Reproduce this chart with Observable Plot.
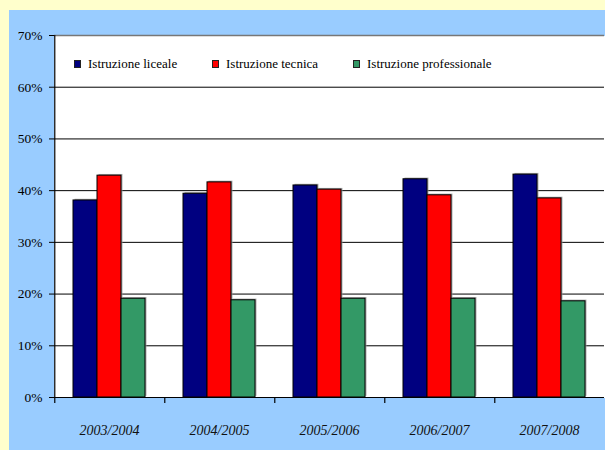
<!DOCTYPE html>
<html><head><meta charset="utf-8">
<script src="https://cdn.jsdelivr.net/npm/d3@7"></script>
<script src="https://cdn.jsdelivr.net/npm/@observablehq/plot@0.6"></script>
<style>
html,body{margin:0;padding:0;background:#ffffcc;overflow:hidden;}
#wrap{position:relative;width:605px;height:450px;}
#panel{position:absolute;left:9px;top:10px;right:0;bottom:0;background:#99ccff;}
#chart{position:absolute;left:0;top:0;}
#chart svg{background:transparent;max-width:none;}
#chart [aria-label="fx-axis tick label"] text{font-style:italic;}
#legend{position:absolute;left:74px;top:57px;font:13px "Liberation Serif","Times New Roman",serif;color:#000;white-space:nowrap;}
#legend .item{position:absolute;top:0;display:flex;align-items:center;height:14px;}
#legend .sw{width:5px;height:6px;border:1px solid #222;margin-right:7px;}
</style></head>
<body><div id="wrap"><div id="panel"></div><div id="chart"></div><div id="legend"></div></div>
<script>
const years = ["2003/2004", "2004/2005", "2005/2006", "2006/2007", "2007/2008"];
const series = ["Istruzione liceale", "Istruzione tecnica", "Istruzione professionale"];
const liceale = [38.1, 39.4, 41.0, 42.2, 43.1];
const tecnica = [42.9, 41.6, 40.2, 39.1, 38.5];
const professionale = [19.1, 18.8, 19.1, 19.1, 18.6];
const colors = ["#000080", "#ff0000", "#339966"];
const yTicks = [0, 10, 20, 30, 40, 50, 60, 70];

const valuesBySeries = [liceale, tecnica, professionale];
const data = years.flatMap((yr, i) => series.map((s, j) => ({year: yr, series: s, value: valuesBySeries[j][i]})));

const W = 605, H = 450, mL = 52, mR = 0, mT = 35, mB = 53;
const padOuter = 0.75;
const facetW = (W - mL - mR) / years.length;
const step = facetW / (series.length + 2 * padOuter);
const tickDx = -(padOuter * step + step / 2);

const chart = Plot.plot({
  width: W, height: H,
  marginLeft: mL, marginRight: mR, marginTop: mT, marginBottom: mB,
  style: {background: "transparent", fontFamily: "'Liberation Serif','Times New Roman',serif", color: "#000", maxWidth: "none"},
  fx: {domain: years, padding: 0},
  x: {domain: series, paddingInner: 0, paddingOuter: padOuter, axis: null},
  y: {domain: [0, 70]},
  color: {domain: series, range: colors},
  marks: [
    Plot.frame({fill: "white", stroke: "none", insetLeft: -1, insetRight: -1, shapeRendering: "crispEdges"}),
    Plot.ruleY(yTicks.slice(0, -1), {stroke: "#000", strokeWidth: 1}),
    Plot.ruleY([70], {stroke: "#777", strokeWidth: 1.5}),
    Plot.barY(data, {fx: "year", x: "series", y: "value", fill: "#999", fillOpacity: 0.8, dx: 1.5, dy: -1.2}),
    Plot.barY(data, {fx: "year", x: "series", y: "value", fill: "series", stroke: "#000", strokeWidth: 1}),
    Plot.ruleX(years, {fx: d => d, x: () => series[0], y1: (d, i) => (i === 0 ? 70 : 0), y2: () => 0, insetBottom: -6, dx: tickDx, stroke: "#000", strokeWidth: 1.2}),
    Plot.axisY(yTicks, {tickFormat: d => d + "%", tickSize: 5, tickPadding: 7, fontSize: 13.5, stroke: "#000", fill: "#000", label: null}),
    Plot.axisFx({anchor: "bottom", tickSize: 0, tickPadding: 28, fontSize: 14, fontStyle: "italic", fill: "#111", label: null})
  ]
});
document.getElementById("chart").appendChild(chart);

const legend = document.getElementById("legend");
const offsets = [0, 138, 279];
series.forEach((s, j) => {
  const it = document.createElement("div");
  it.className = "item";
  it.style.left = offsets[j] + "px";
  const sw = document.createElement("span");
  sw.className = "sw";
  sw.style.background = colors[j];
  const tx = document.createElement("span");
  tx.textContent = s;
  it.appendChild(sw); it.appendChild(tx);
  legend.appendChild(it);
});
</script>
</body></html>
